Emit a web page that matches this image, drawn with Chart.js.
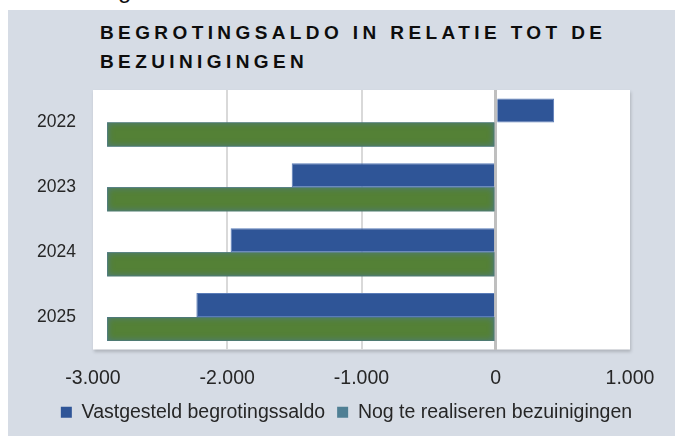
<!DOCTYPE html>
<html>
<head>
<meta charset="utf-8">
<script src="https://cdn.jsdelivr.net/npm/chart.js@4/dist/chart.umd.min.js"></script>
<style>
  html, body { margin: 0; padding: 0; background: #fff; }
  body { width: 675px; height: 436px; position: relative; overflow: hidden; font-family: "Liberation Sans", Arial, sans-serif; }
  .cut { position: absolute; left: 118px; top: 0; width: 30px; height: 4px; overflow: hidden; }
  .cut span { position: absolute; left: 0; top: -22px; font-size: 24px; line-height: 1; color: #111; }
  #panel { position: absolute; left: 8px; top: 10px; width: 667px; height: 426px; background: #d6dce5; overflow: hidden; }
  #title { position: absolute; left: 92px; top: 9px; font-size: 19px; font-weight: bold; letter-spacing: 4.4px; line-height: 28.5px; color: #0d0d0d; }
  canvas { position: absolute; left: 0; top: 0; }
</style>
</head>
<body>
<div class="cut"><span>g</span></div>
<div id="panel">
  <div id="title">BEGROTINGSALDO IN RELATIE TOT DE<br>BEZUINIGINGEN</div>
  <canvas id="myChart" width="677" height="426"></canvas>
</div>
<script>
// data
const years = ['2022', '2023', '2024', '2025'];
const saldo = [435, -1520, -1975, -2230];
const bezuinigingen = [-2895, -2895, -2895, -2895];
const seriesNames = ['Vastgesteld begrotingssaldo', 'Nog te realiseren bezuinigingen'];
const xTicks = [-3000, -2000, -1000, 0, 1000];
const legendColors = ['#2f5597', '#4f7f94'];

// white plot area with a soft shadow
const plotBg = {
    id: 'plotBg',
    beforeDraw(chart) {
        const { ctx, chartArea: a } = chart;
        ctx.save();
        ctx.shadowColor = 'rgba(0,0,0,0.18)';
        ctx.shadowBlur = 3;
        ctx.shadowOffsetX = 1;
        ctx.shadowOffsetY = 2;
        ctx.fillStyle = '#ffffff';
        ctx.fillRect(a.left, a.top, a.right - a.left, a.bottom - a.top);
        ctx.restore();
    }
};

// soft blue-grey inner glow on the green bars
const barGlow = {
    id: 'barGlow',
    afterDatasetDraw(chart, args) {
        if (args.index !== 1) return;
        const ctx = chart.ctx;
        args.meta.data.forEach(bar => {
            const { x, y, base, height } = bar.getProps(['x', 'y', 'base', 'height'], true);
            const left = Math.min(x, base), right = Math.max(x, base), top = y - height / 2;
            ctx.save();
            ctx.beginPath();
            ctx.rect(left, top, right - left, height);
            ctx.clip();
            ctx.shadowColor = '#4c7891';
            ctx.shadowBlur = 6;
            ctx.strokeStyle = '#4c7891';
            ctx.lineWidth = 4;
            ctx.strokeRect(left - 1.5, top - 1.5, right - left + 3, height + 3);
            ctx.restore();
        });
    }
};

function fmt(v) {
    const s = Math.abs(v).toString().replace(/\B(?=(\d{3})+(?!\d))/g, '.');
    return (v < 0 ? '-' : '') + s;
}

const tickFont = { family: '"Liberation Sans", Arial, sans-serif', size: 19.5 };

const ctx = document.getElementById('myChart').getContext('2d');
const myChart = new Chart(ctx, {
    type: 'bar',
    data: {
        labels: years,
        datasets: [{
            label: seriesNames[0],
            data: saldo,
            backgroundColor: '#2f5597',
            borderColor: '#5a7cb8',
            borderWidth: 1
        }, {
            label: seriesNames[1],
            data: bezuinigingen,
            backgroundColor: '#548136',
            borderWidth: 0
        }]
    },
    options: {
        indexAxis: 'y',
        responsive: false,
        animation: false,
        devicePixelRatio: 1,
        datasets: {
            bar: { categoryPercentage: 0.74, barPercentage: 1.0 }
        },
        layout: {
            padding: { top: 80, right: 0, left: 0, bottom: 4 }
        },
        scales: {
            x: {
                min: -3000,
                max: 1000,
                afterBuildTicks: (scale) => {
                    scale.ticks = xTicks.map(v => ({ value: v }));
                },
                afterFit: (scale) => { scale.height = 41; },
                ticks: {
                    color: '#262626',
                    font: tickFont,
                    padding: 17,
                    callback: (value) => fmt(value)
                },
                grid: {
                    drawTicks: false,
                    color: (c) => {
                        const v = c.tick ? c.tick.value : null;
                        if (v === 0) return '#bfbfbf';
                        if (v === -3000 || v === 1000) return 'rgba(0,0,0,0)';
                        return '#d9d9d9';
                    },
                    lineWidth: (c) => (c.tick && c.tick.value === 0 ? 3 : 2)
                },
                border: { display: false }
            },
            y: {
                afterFit: (scale) => { scale.width = 85; },
                ticks: {
                    color: '#262626',
                    font: { family: '"Liberation Sans", Arial, sans-serif', size: 17.5 },
                    padding: 17
                },
                grid: { display: false, drawTicks: false },
                border: { display: false }
            },
            // empty right margin so the legend centres like the original
            yRight: {
                type: 'category',
                labels: years,
                position: 'right',
                afterFit: (scale) => { scale.width = 55; },
                ticks: { display: false },
                grid: { display: false, drawTicks: false },
                border: { display: false }
            }
        },
        plugins: {
            legend: {
                position: 'bottom',
                labels: {
                    boxWidth: 11,
                    boxHeight: 11,
                    padding: 12,
                    color: '#262626',
                    font: tickFont,
                    generateLabels: (chart) => {
                        const items = Chart.defaults.plugins.legend.labels.generateLabels(chart);
                        items.forEach((it, i) => {
                            it.fillStyle = legendColors[i];
                            it.strokeStyle = legendColors[i];
                            it.lineWidth = 0;
                        });
                        return items;
                    }
                }
            },
            tooltip: { enabled: false }
        }
    },
    plugins: [plotBg, barGlow]
});
</script>
</body>
</html>
